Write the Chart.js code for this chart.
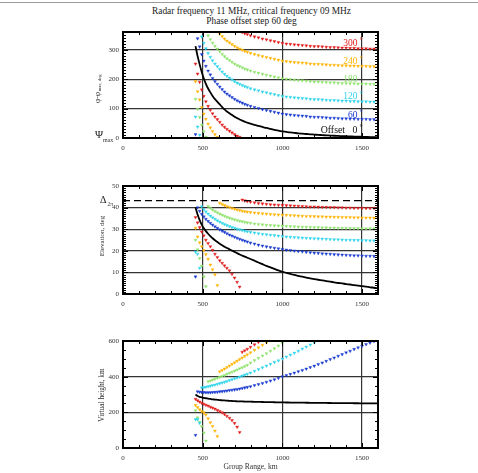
<!DOCTYPE html>
<html>
<head>
<meta charset="utf-8">
<script src="https://cdn.jsdelivr.net/npm/chart.js@4.4.1/dist/chart.umd.min.js"></script>
<style>
  body { margin: 0; background: #fff; width: 478px; height: 473px; overflow: hidden; position: relative; font-family: 'Liberation Serif', serif; }
  #topline { position: absolute; left: 0; top: 2px; width: 478px; height: 1px; background: #9a9a9a; }
  .title { position: absolute; left: 0; width: 503px; text-align: center; font-size: 9.4px; color: #222; white-space: nowrap; }
  canvas { position: absolute; left: 0; }
</style>
</head>
<body>
<div id="topline"></div>
<div class="title" style="top:6px">Radar frequency 11 MHz, critical frequency 09 MHz</div>
<div class="title" style="top:16px">Phase offset step 60 deg</div>
<canvas id="c1" width="478" height="138" style="top:22px"></canvas>
<canvas id="c2" width="478" height="140" style="top:176px"></canvas>
<canvas id="c3" width="478" height="142" style="top:331px"></canvas>
<script>
// group range samples, km (shared by every series)
const groupRange = [455,468,481,494,507,520,534,548,562,577, 592,607,622,637,652,668,684,700,716,732, 748,764,780,
  800,825,850,875,900,925,950,975,1000,1025, 1050,1075,1100,1125,1150,1175,1200,1225,1250,1275,
  1300,1325,1350,1375,1400,1425,1450,1475,1500,1525, 1550,1575,1600];
const xTicks = [0, 500, 1000, 1500];

// top panel: phase minus max phase, deg (offset 0 = black curve)
const phase0 = [312,278,250,224,202,184,168,155,143,132, 123,114,105,97,90,84,78,72,67.5,63, 59,55.5,52,
  48.5,44.5,41,37.5,34,31,28,25,22.5,20.5, 19,17.5,16,14.8,13.6,12.5,11.5,10.6,9.8,9,
  8.3,7.6,7,6.4,5.9,5.4,4.9,4.4,4,3.6, 3.2,2.8,2.4];
const phase60 = [12,338,310,284,262,244,228,215,203,192, 183,174,165,157,150,144,138,132,127,123, 119,115,112,
  108,104,101,97,94,91,88,85,82,80, 79,77,76,75,74,72,71,71,70,69, 68,68,67,66,66,65,65,64,64,64, 63,63,62];
const phase120 = [72,38,10,344,322,304,288,275,263,252, 243,234,225,217,210,204,198,192,187,183, 179,175,172,
  168,164,161,157,154,151,148,145,142,140, 139,137,136,135,134,132,131,131,130,129, 128,128,127,126,126,125,125,124,124,124, 123,123,122];
const phase180 = [132,98,70,44,22,4,348,335,323,312, 303,294,285,277,270,264,258,252,247,243, 239,235,232,
  228,224,221,217,214,211,208,205,202,200, 199,197,196,195,194,192,191,191,190,189, 188,188,187,186,186,185,185,184,184,184, 183,183,182];
const phase240 = [192,158,130,104,82,64,48,35,23,12, 3,354,345,337,330,324,318,312,307,303, 299,295,292,
  288,284,281,277,274,271,268,265,262,260, 259,257,256,255,254,252,251,251,250,249, 248,248,247,246,246,245,245,244,244,244, 243,243,242];
const phase300 = [252,218,190,164,142,124,108,95,83,72, 63,54,45,37,30,24,18,12,7,3, 359,355,352,
  348,344,341,337,334,331,328,325,322,320, 319,317,316,315,314,312,311,311,310,309, 308,308,307,306,306,305,305,304,304,304, 303,303,302];
const phaseTicks = [0, 100, 200, 300];

// middle panel: elevation, deg
const elev0 = [40,36.8,34.2,32.1,30.4,29.1,27.9,26.8,25.8,24.9, 24.1,23.3,22.6,21.9,21.3,20.7,20.1,19.5,18.9,18.3, 17.8,17.3,16.8,
  16.2,15.4,14.6,13.8,13.0,12.3,11.6,10.9,10.3,9.8, 9.3,8.8,8.4,8.0,7.6,7.2,6.9,6.6,6.3,6.0,
  5.7,5.4,5.1,4.9,4.6,4.4,4.1,3.9,3.6,3.4, 3.1,2.9,2.6];
const elev60 = [8,40,38.4,37,35.8,34.7,33.7,32.8,32,31.2, 30.5,29.8,29.2,28.6,28,27.4,26.9,26.4,25.9,25.4, 25,24.6,24.2,
  23.7,23.2,22.7,22.3,21.9,21.6,21.3,21,20.7,20.4, 20.2,20,19.8,19.6,19.4,19.2,19,18.9,18.7,18.6,
  18.5,18.3,18.2,18.1,18,17.9,17.8,17.8,17.7,17.6, 17.6,17.5,17.5];
const elev120 = [19.5,18.5,12,40.5,39.2,38.1,37.1,36.2,35.4,34.7, 34,33.4,32.8,32.3,31.8,31.3,30.9,30.5,30.1,29.8, 29.5,29.2,28.9,
  28.6,28.3,28,27.7,27.5,27.3,27.1,26.9,26.7,26.5, 26.4,26.2,26.1,26,25.9,25.8,25.7,25.6,25.5,25.4,
  25.3,25.2,25.2,25.1,25,25,24.9,24.9,24.8,24.8, 24.7,24.7,24.6];
const elev180 = [25,20.5,16.5,13,8,3.5,40.6,39.8,39,38.3, 37.7,37.1,36.6,36.1,35.6,35.2,34.8,34.4,34.1,33.8, 33.5,33.3,33,
  32.8,32.5,32.3,32.1,31.9,31.8,31.7,31.6,31.5,31.4, 31.3,31.2,31.1,31,31,30.9,30.8,30.8,30.7,30.7,
  30.6,30.6,30.5,30.5,30.5,30.4,30.4,30.4,30.3,30.3, 30.3,30.3,30.2];
const elev240 = [30.5,26.5,23.8,22,20.2,18.3,16.2,13.5,11.3,9, 4,42.1,41.5,41,40.5,40.1,39.7,39.3,39,38.7, 38.4,38.2,38,
  37.8,37.6,37.4,37.2,37.1,36.9,36.8,36.7,36.6,36.5, 36.4,36.3,36.2,36.1,36,36,35.9,35.8,35.8,35.7,
  35.7,35.6,35.6,35.5,35.5,35.5,35.4,35.4,35.3,35.3, 35.3,35.2,35.2];
const elev300 = [35.5,33,30.8,28.8,27,25,23.5,22,20.3,18.5, 17,15.5,14.3,13.1,12,10.8,9.2,7.5,5.5,3.3, 43.6,43.2,42.9,
  42.6,42.3,42,41.8,41.6,41.4,41.3,41.2,41.1,41, 40.9,40.8,40.7,40.6,40.5,40.4,40.4,40.3,40.2,40.2,
  40.1,40.1,40,40,39.9,39.9,39.8,39.8,39.8,39.7, 39.7,39.7,39.6];
const elevTicks = [0, 10, 20, 30, 40, 50];
const delta2pi = 43.2;

// bottom panel: virtual height, km
const height0 = [300,292,287,284,281,279,277,275,273,271.5, 270,268.5,267.5,266.5,265.5,264.5,263.5,262.5,262,261.5, 261,260.5,260,
  259.5,259,258.5,258,257.5,257,256.5,256,255.5,255.2, 255,254.7,254.4,254.1,253.8,253.5,253.2,253,252.7,252.5,
  252.2,252,251.8,251.6,251.4,251.2,251,250.8,250.6,250.4, 250.3,250.1,250];
const height60 = [72,316,314,313,312,311,311,311,312,313, 314,316,317,319,321,323,325,327,329,332, 335,338,341,
  345,351,357,363,370,377,384,392,400,407, 414,421,429,436,444,452,460,469,478,487,
  497,506,516,525,535,544,554,563,572,581, 590,598];
const height120 = [160,160,140,338,340,342,345,348,351,354, 358,362,366,370,374,379,384,389,394,399, 404,410,415,
  422,431,441,451,461,471,481,490,500,511, 522,533,544,556,567,579,591];
const height180 = [210,170,145,122,85,40,372,377,382,387, 392,397,402,408,414,420,426,432,438,445, 451,458,465,
  478,491,504,517,530,544,558,573,588];
const height240 = [240,228,216,206,198,186,165,143,122,96, 65,428,436,444,452,461,470,479,488,497, 506,515,524,
  535,549,563,577,591];
const height300 = [274,266,259,252,246,241,236,230,225,219, 212,205,198,189,179,168,155,139,118,88, 538,546,555,
  566,580,594];
const heightTicks = [0, 200, 400, 600];

const offsetColors = ['#1a3ad0', '#2fd4ea', '#8fe26c', '#ffb300', '#e01c1c'];
const offsetNames = ['60', '120', '180', '240', '300'];
const serif = 'Liberation Serif';

function pts(arr) {
  return groupRange.map((x, i) => ({ x: x, y: arr[i] })).filter(p => p.y !== undefined && p.y !== null);
}

// IDL-like frame with inward ticks on all four sides
const idlBox = {
  id: 'idlBox',
  afterDatasetsDraw(chart, args, o) {
    const ctx = chart.ctx, a = chart.chartArea;
    const xs = chart.scales.x, ys = chart.scales.y;
    ctx.save();
    ctx.strokeStyle = '#000';
    ctx.lineWidth = 1;
    ctx.beginPath();
    for (let v = 0; v <= 1600; v += 100) {
      const px = Math.round(xs.getPixelForValue(v)) + 0.5;
      const len = v % 500 === 0 ? 5 : 3;
      ctx.moveTo(px, a.bottom); ctx.lineTo(px, a.bottom - len);
      ctx.moveTo(px, a.top); ctx.lineTo(px, a.top + len);
    }
    for (let k = 0; k * o.minor <= ys.max + 1e-6; k++) {
      const v = k * o.minor;
      const py = Math.round(ys.getPixelForValue(v)) + 0.5;
      const len = (k % o.per === 0) ? 5 : 3;
      ctx.moveTo(a.left, py); ctx.lineTo(a.left + len, py);
      ctx.moveTo(a.right, py); ctx.lineTo(a.right - len, py);
    }
    ctx.stroke();
    ctx.lineWidth = 2;
    ctx.strokeRect(a.left, a.top, a.right - a.left, a.bottom - a.top);
    ctx.restore();
  }
};

function drawItems(chart, items) {
  if (!items) return;
  const ctx = chart.ctx;
  const oy = chart.canvas.offsetTop;
  items.forEach(it => {
    let px = it.x, py = it.y - oy;
    if (it.data) {
      px = chart.scales.x.getPixelForValue(it.x);
      py = chart.scales.y.getPixelForValue(it.y);
    }
    ctx.save();
    ctx.translate(px, py);
    if (it.rot) ctx.rotate(-Math.PI / 2);
    ctx.fillStyle = it.color || '#222';
    ctx.textBaseline = 'middle';
    ctx.font = (it.size || 8) + 'px "' + serif + '"';
    let w = ctx.measureText(it.text).width;
    let x0 = it.align === 'right' ? -w : (it.align === 'center' ? -w / 2 : 0);
    if (it.sub && it.align === 'center') {
      ctx.font = it.subSize + 'px "' + serif + '"';
      const ws = ctx.measureText(it.sub).width;
      x0 = -(w + ws) / 2;
      ctx.font = (it.size || 8) + 'px "' + serif + '"';
    }
    ctx.fillText(it.text, x0, 0);
    if (it.sub) {
      ctx.font = it.subSize + 'px "' + serif + '"';
      ctx.fillText(it.sub, x0 + w + 0.5, it.subDy);
    }
    if (it.deg) {
      ctx.font = '8px "' + serif + '"';
      ctx.fillText('°', x0 + w + 2, -2);
    }
    ctx.restore();
  });
}

const labelPlugin = {
  id: 'labels',
  beforeDatasetsDraw(chart, args, o) { drawItems(chart, o.under); },
  afterDraw(chart, args, o) { drawItems(chart, o.over); }
};

function makePanel(id, series, blackLine, yMax, yTicks, minor, per, xh, under, over, extra) {
  const datasets = series.map((s, i) => ({
    data: pts(s),
    showLine: false,
    pointStyle: 'triangle',
    rotation: 180,
    pointRadius: 1.7,
    pointBackgroundColor: offsetColors[i],
    pointBorderColor: offsetColors[i],
    pointBorderWidth: 0.4,
    order: 2
  }));
  datasets.push({
    data: pts(blackLine), showLine: true, borderColor: '#000', borderWidth: 1.8,
    pointRadius: 0, tension: 0.3, order: 0
  });
  (extra || []).forEach(d => datasets.push(d));

  return new Chart(document.getElementById(id), {
    type: 'scatter',
    data: { datasets: datasets },
    options: {
      responsive: false,
      animation: false,
      devicePixelRatio: 1,
      layout: { padding: { left: 0, right: 100, top: 10, bottom: 0 } },
      plugins: {
        legend: { display: false },
        tooltip: { enabled: false },
        idlBox: { minor: minor, per: per },
        labels: { under: under, over: over }
      },
      scales: {
        x: {
          type: 'linear', min: 0, max: 1600,
          afterFit: s => { s.height = xh; },
          afterBuildTicks: s => { s.ticks = xTicks.map(v => ({ value: v })); },
          border: { display: false },
          grid: { color: c => (c.tick && c.tick.value > 0) ? '#333' : 'rgba(0,0,0,0)', lineWidth: 1.2, drawTicks: false },
          ticks: { font: { family: serif, size: 7 }, color: '#333', padding: 6, maxRotation: 0, autoSkip: false,
                   callback: v => String(v) }
        },
        y: {
          type: 'linear', min: 0, max: yMax,
          afterFit: s => { s.width = 123; },
          afterBuildTicks: s => { s.ticks = yTicks.map(v => ({ value: v })); },
          border: { display: false },
          grid: { color: c => (c.tick && c.tick.value > 0 && c.tick.value < yMax) ? '#333' : 'rgba(0,0,0,0)', lineWidth: 1.2, drawTicks: false },
          ticks: { font: { family: serif, size: 7 }, color: '#333', padding: 4, autoSkip: false,
                   callback: v => String(v) }
        }
      }
    },
    plugins: [idlBox, labelPlugin]
  });
}

// top panel
const annot = offsetNames.map((n, i) => ({
  text: n, data: true, x: 1471, y: [78, 140, 197, 259, 321.7][i], align: 'right',
  size: 9.5, color: offsetColors[i], deg: n !== '180'
}));
annot.push({ text: 'Offset', data: true, x: 1393, y: 27, align: 'right', size: 9.8, color: '#111' });
annot.push({ text: '0', data: true, x: 1471, y: 27, align: 'right', size: 9.8, color: '#111', deg: true });

makePanel('c1', [phase60, phase120, phase180, phase240, phase300], phase0, 360, phaseTicks, 10, 10, 22,
  annot,
  [
    { text: 'φ-φ', sub: 'max, deg', subSize: 4.6, subDy: 2, x: 98, y: 89, rot: true, align: 'center', size: 7.5, color: '#333' },
    { text: 'Ψ', x: 95, y: 135, size: 11, color: '#222' },
    { text: 'max', x: 103, y: 140, size: 6, color: '#333' }
  ]);

// middle panel
makePanel('c2', [elev60, elev120, elev180, elev240, elev300], elev0, 50, elevTicks, 1, 10, 22,
  [],
  [
    { text: 'Elevation, deg', x: 102.5, y: 236, rot: true, align: 'center', size: 7, color: '#333' },
    { text: 'Δ', x: 100, y: 200, size: 10, color: '#222' },
    { text: '2π', x: 107.5, y: 205, size: 5.5, color: '#333' }
  ],
  [{ data: [{ x: 0, y: delta2pi }, { x: 1600, y: delta2pi }], showLine: true, borderColor: '#000',
     borderWidth: 1.2, borderDash: [7, 4], pointRadius: 0, order: 1 }]);

// bottom panel
makePanel('c3', [height60, height120, height180, height240, height300], height0, 600, heightTicks, 50, 4, 25,
  [],
  [
    { text: 'Virtual height, km', x: 102, y: 395, rot: true, align: 'center', size: 7.3, color: '#333' },
    { text: 'Group Range, km', x: 250.5, y: 467, align: 'center', size: 7.6, color: '#333' }
  ]);
</script>
</body>
</html>
